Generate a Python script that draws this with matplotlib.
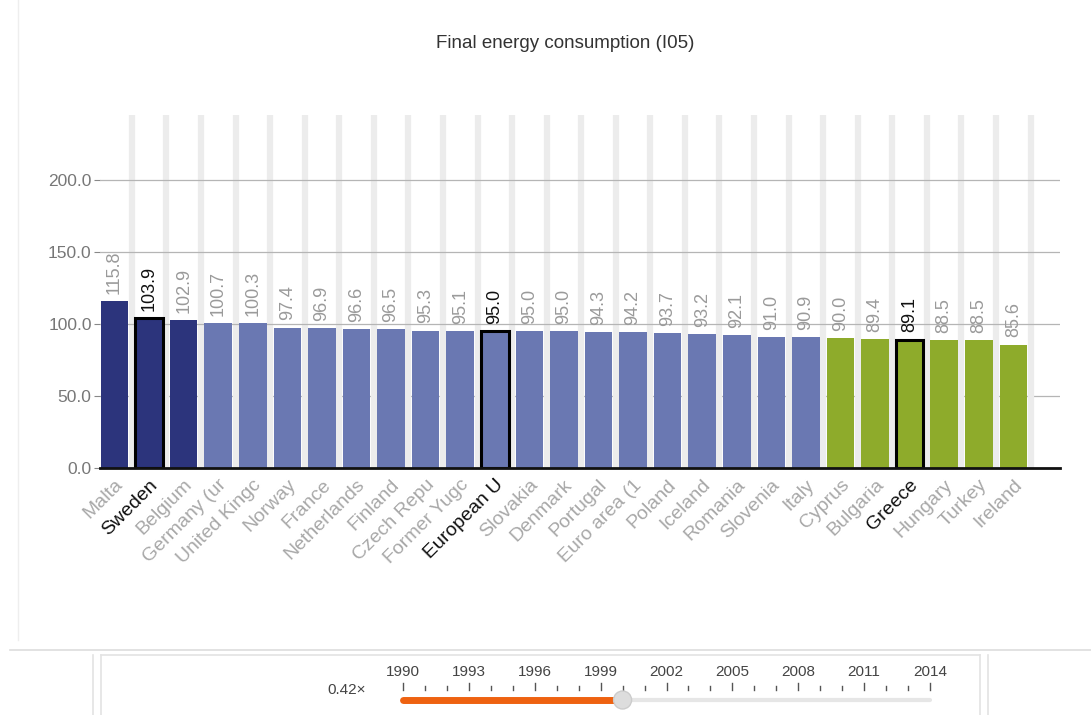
import numpy as np
import matplotlib.pyplot as plt
from matplotlib.patches import Circle

plt.rcParams['font.family'] = ['Liberation Sans', 'DejaVu Sans']

# ========== data ==========
countries = ["Malta", "Sweden", "Belgium", "Germany (ur", "United Kingc", "Norway",
             "France", "Netherlands", "Finland", "Czech Repu", "Former Yugc",
             "European U", "Slovakia", "Denmark", "Portugal", "Euro area (1",
             "Poland", "Iceland", "Romania", "Slovenia", "Italy", "Cyprus",
             "Bulgaria", "Greece", "Hungary", "Turkey", "Ireland"]
values = [115.8, 103.9, 102.9, 100.7, 100.3, 97.4, 96.9, 96.6, 96.5, 95.3, 95.1,
          95.0, 95.0, 95.0, 94.3, 94.2, 93.7, 93.2, 92.1, 91.0, 90.9, 90.0,
          89.4, 89.1, 88.5, 88.5, 85.6]
# group: 0 = above, 1 = middle, 2 = below
groups = [0, 0, 0] + [1] * 18 + [2] * 6
highlight = ["Sweden", "European U", "Greece"]
yticks = [0, 50, 100, 150, 200]

slider_years = list(range(1990, 2015))
slider_labels = [1990, 1993, 1996, 1999, 2002, 2005, 2008, 2011, 2014]
slider_value = 2000

group_colors = ["#2c347c", "#6a78b2", "#8eab2b"]

# ========== figure ==========
fig = plt.figure(figsize=(10.91, 7.15), dpi=100)
ax = fig.add_axes([100 / 1091, 1 - 468 / 715, 960 / 1091, 353 / 715])

x = np.arange(len(countries))
colors = [group_colors[g] for g in groups]
edges = ["black" if c in highlight else "none" for c in countries]
ax.bar(x, values, width=0.8, color=colors, edgecolor=edges, linewidth=2.2, zorder=3)

# light stripes between bars
for xi in x:
    ax.axvline(xi + 0.5, ymin=0, ymax=1, color="#ececec", linewidth=4.5, zorder=1)

for yv in yticks[1:]:
    ax.axhline(yv, color="#b5b5b5", linewidth=0.9, zorder=2 if yv > 50 else 0.5)

# value labels
for xi, v, c in zip(x, values, countries):
    col = "#111111" if c in highlight else "#9a9a9a"
    ax.text(xi, v + 5, f"{v:.1f}", rotation=90, ha="center", va="bottom",
            fontsize=13, color=col, zorder=4)

ax.set_xlim(-0.42, 27.35)
ax.set_ylim(0, 245)
ax.set_yticks(yticks)
ax.set_yticklabels([f"{t:.1f}" for t in yticks], fontsize=12.5, color="#777777")
ax.tick_params(axis="y", length=4, color="#888888", pad=2)
ax.set_xticks(x)
ax.set_xticklabels(countries, rotation=45, ha="right", rotation_mode="anchor",
                   fontsize=14)
ax.tick_params(axis="x", length=0, pad=6)
for lbl in ax.get_xticklabels():
    lbl.set_color("#111111" if lbl.get_text() in highlight else "#a8a8a8")

for s in ["top", "right", "left"]:
    ax.spines[s].set_visible(False)
ax.spines["bottom"].set_linewidth(2)
ax.spines["bottom"].set_color("#111111")
ax.spines["bottom"].set_zorder(5)

fig.text(565 / 1091, 1 - 44 / 715, "Final energy consumption (I05)", ha="center",
         va="center", fontsize=13.5, color="#333333")

# ========== bottom slider panel ==========
deco = fig.add_axes([0, 0, 1, 1], zorder=-1)
deco.set_xlim(0, 1091)
deco.set_ylim(715, 0)
deco.axis("off")
deco.plot([18, 18], [0, 640], color="#eeeeee", lw=1)
deco.plot([10, 1091], [650, 650], color="#dddddd", lw=1.2)
for xv in [93, 101, 980, 988]:
    deco.plot([xv, xv], [655, 715], color="#e3e3e3", lw=1.2)
deco.plot([101, 980], [655, 655], color="#e3e3e3", lw=1.2)

ov = fig.add_axes([0, 0, 1, 1], zorder=5)
ov.set_xlim(0, 1091)
ov.set_ylim(715, 0)
ov.axis("off")
x0, x1 = 403, 930
px = lambda yr: x0 + (yr - slider_years[0]) * (x1 - x0) / (slider_years[-1] - slider_years[0])
for yr in slider_years:
    big = yr in slider_labels
    ov.plot([px(yr), px(yr)], [683 if big else 686, 690], color="#555555", lw=1)
for yr in slider_labels:
    ov.text(px(yr), 672, str(yr), ha="center", va="center", fontsize=11, color="#444444")
ov.text(366, 690, "0.42×", ha="right", va="center", fontsize=11, color="#444444")
ov.plot([px(slider_years[0]), px(slider_years[-1])], [700, 700], color="#e6e6e6", lw=3,
        solid_capstyle="round")
ov.plot([px(slider_years[0]), px(slider_value)], [700, 700], color="#ee6211", lw=5,
        solid_capstyle="round")
ov.add_patch(Circle((px(slider_value), 700), 9, facecolor="#dddddd",
                    edgecolor="#cccccc", lw=1, zorder=6))

plt.savefig("out.png", dpi=100)
plt.close()
